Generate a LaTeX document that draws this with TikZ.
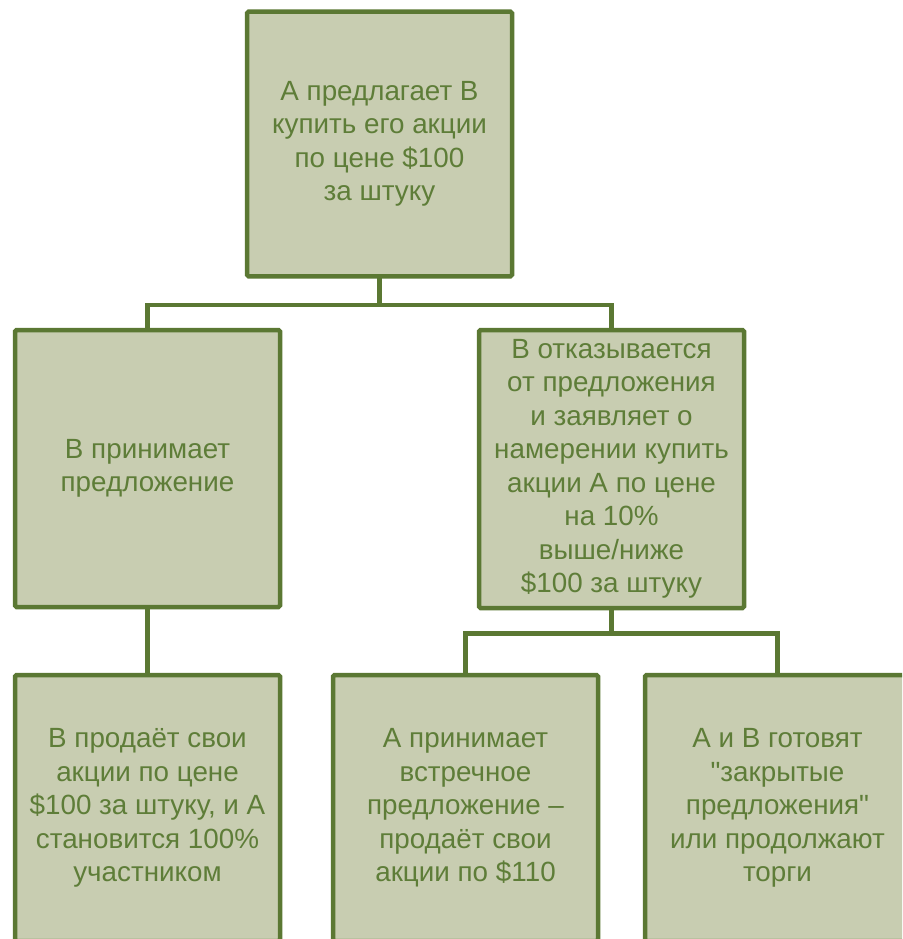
\documentclass[tikz,border=0pt]{standalone}
\usepackage{fontspec}
\setmainfont{Liberation Sans}[Ligatures=TeXOff]
\definecolor{boxfill}{HTML}{C8CDB1}
\definecolor{boxline}{HTML}{5B7833}
\definecolor{boxtext}{HTML}{5E7D38}
\begin{document}
\begin{tikzpicture}[x=1pt,y=-1pt,
  box/.style={rectangle, draw=boxline, fill=boxfill, line width=4.5pt,
    rounded corners=1.5pt, outer sep=0pt, align=center, text=boxtext,
    font=\fontsize{27.8}{33.5}\selectfont, inner sep=0pt,
    minimum width=265pt},
  link/.style={draw=boxline, line width=4.5pt}]
\useasboundingbox (0,0) rectangle (902,939);
\clip (0,0) rectangle (902,939);
\fill[white] (0,0) rectangle (902,939);
\node[box, minimum height=264.5pt] (top) at (379.5,144)
  {А предлагает В\\купить его акции\\по цене \$100\\за штуку};
\node[box, minimum height=277pt] (L1) at (147.5,468.5)
  {В принимает\\предложение};
\node[box, minimum height=278pt] (R1) at (611.5,469)
  {В отказывается\\от предложения\\и заявляет о\\намерении купить\\акции А по цене\\на 10\%\\выше/ниже\\\$100 за штуку};
\node[box, minimum height=266pt] (B1) at (147.5,808)
  {В продаёт свои\\акции по цене\\\$100 за штуку, и А\\становится 100\%\\участником};
\node[box, minimum height=266pt] (B2) at (465.5,808)
  {А принимает\\встречное\\предложение –\\продаёт свои\\акции по \$110};
\node[box, minimum height=266pt] (B3) at (777.5,808)
  {А и В готовят\\"закрытые\\предложения"\\или продолжают\\торги};
\coordinate (j1) at (379.5,305);
\coordinate (j2) at (611.5,633.5);
\draw[link] (top.south) -- (j1);
\draw[link] (L1.north) |- (j1) -| (R1.north);
\draw[link] (L1.south) -- (B1.north);
\draw[link] (R1.south) -- (j2);
\draw[link] (B2.north) |- (j2) -| (B3.north);
\end{tikzpicture}
\end{document}
